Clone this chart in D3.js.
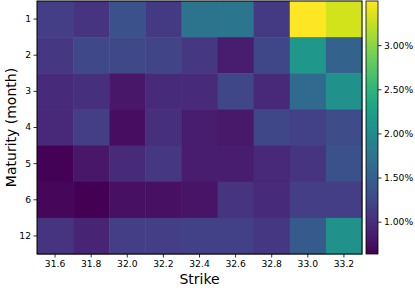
<!DOCTYPE html>
<html>
<head>
<meta charset="utf-8">
<script src="https://cdn.jsdelivr.net/npm/d3@7"></script>
<style>
  body { margin: 0; background: #fff; }
  text { font-family: "DejaVu Sans", sans-serif; }
</style>
</head>
<body>
<div id="chart"></div>
<script>
// strikes along x, maturities (months) along y
var strikes = ["31.6", "31.8", "32.0", "32.2", "32.4", "32.6", "32.8", "33.0", "33.2"];
var maturities = ["1", "2", "3", "4", "5", "6", "12"];

// implied values in percent, one row per maturity
var row_1  = [1.15, 1.06, 1.35, 1.12, 1.72, 1.75, 1.12, 3.50, 3.30];
var row_2  = [1.09, 1.26, 1.26, 1.21, 1.09, 0.86, 1.24, 2.15, 1.52];
var row_3  = [0.98, 1.03, 0.81, 0.98, 0.98, 1.24, 0.95, 1.61, 2.07];
var row_4  = [0.95, 1.15, 0.73, 1.03, 0.86, 0.82, 1.24, 1.18, 1.29];
var row_5  = [0.65, 0.81, 0.98, 1.09, 0.86, 0.86, 0.95, 1.06, 1.35];
var row_6  = [0.68, 0.634, 0.75, 0.75, 0.79, 1.06, 0.98, 1.15, 1.15];
var row_12 = [1.06, 0.92, 1.15, 1.15, 1.18, 1.18, 1.09, 1.44, 2.07];
var rows = [row_1, row_2, row_3, row_4, row_5, row_6, row_12];

var cbarTicks = [1.0, 1.5, 2.0, 2.5, 3.0];

var svgWidth = 415, svgHeight = 288;
var margin = {top: 1, left: 37, plotRight: 362, bottom: 254};

var cells = [];
for (var i = 0; i < maturities.length; i++) {
  for (var j = 0; j < strikes.length; j++) {
    cells.push({m: maturities[i], k: strikes[j], v: rows[i][j]});
  }
}

var vmin = d3.min(cells, d => d.v), vmax = d3.max(cells, d => d.v);

var xscale = d3.scaleBand().domain(strikes).range([margin.left, margin.plotRight]);
var yscale = d3.scaleBand().domain(maturities).range([margin.top, margin.bottom]);
var color = d3.scaleSequential(d3.interpolateViridis).domain([vmin, vmax]);

var svg = d3.select("#chart").append("svg")
  .attr("width", svgWidth)
  .attr("height", svgHeight);

svg.selectAll(".cell")
  .data(cells)
  .enter().append("rect")
  .attr("x", d => xscale(d.k))
  .attr("y", d => yscale(d.m))
  .attr("width", xscale.bandwidth() + 0.5)
  .attr("height", yscale.bandwidth() + 0.5)
  .attr("fill", d => color(d.v));

svg.append("rect")
  .attr("x", margin.left).attr("y", margin.top)
  .attr("width", margin.plotRight - margin.left)
  .attr("height", margin.bottom - margin.top)
  .attr("fill", "none").attr("stroke", "#000").attr("stroke-width", 1);

var xAxis = d3.axisBottom(xscale).tickSize(3.5).tickSizeOuter(0).tickPadding(2.5);
var yAxis = d3.axisLeft(yscale).tickSize(3.5).tickSizeOuter(0).tickPadding(2.5);

var gx = svg.append("g")
  .attr("transform", "translate(0," + margin.bottom + ")")
  .call(xAxis);
var gy = svg.append("g")
  .attr("transform", "translate(" + margin.left + ",0)")
  .call(yAxis);
[gx, gy].forEach(function(g) {
  g.select(".domain").remove();
  g.selectAll("text").attr("font-size", "9.2px").attr("font-family", "DejaVu Sans").attr("fill", "#000");
  g.selectAll("line").attr("stroke", "#000").attr("stroke-width", 0.8);
});

svg.append("text")
  .attr("x", (margin.left + margin.plotRight) / 2)
  .attr("y", 284)
  .attr("text-anchor", "middle")
  .attr("font-size", "14px")
  .text("Strike");

svg.append("text")
  .attr("transform", "translate(16," + ((margin.top + margin.bottom) / 2) + ") rotate(-90)")
  .attr("text-anchor", "middle")
  .attr("font-size", "14px")
  .text("Maturity (month)");

// colorbar
var cbX = 366, cbW = 12;
var cscale = d3.scaleLinear().domain([vmin, vmax]).range([margin.bottom, margin.top]);

var grad = svg.append("defs").append("linearGradient")
  .attr("id", "cbgrad")
  .attr("x1", "0").attr("y1", "1").attr("x2", "0").attr("y2", "0");
d3.range(0, 1.0001, 0.05).forEach(function(t) {
  grad.append("stop")
    .attr("offset", t)
    .attr("stop-color", d3.interpolateViridis(t));
});

svg.append("rect")
  .attr("x", cbX).attr("y", margin.top)
  .attr("width", cbW).attr("height", margin.bottom - margin.top)
  .attr("fill", "url(#cbgrad)")
  .attr("stroke", "#000").attr("stroke-width", 0.8);

var cAxis = d3.axisRight(cscale).tickValues(cbarTicks)
  .tickFormat(d => d3.format(".2f")(d) + "%")
  .tickSize(3.5).tickPadding(2.5);
var gc = svg.append("g")
  .attr("transform", "translate(" + (cbX + cbW) + ",0)")
  .call(cAxis);
gc.select(".domain").remove();
gc.selectAll("text").attr("font-size", "9.2px").attr("font-family", "DejaVu Sans").attr("fill", "#000");
gc.selectAll("line").attr("stroke", "#000").attr("stroke-width", 0.8);
</script>
</body>
</html>
